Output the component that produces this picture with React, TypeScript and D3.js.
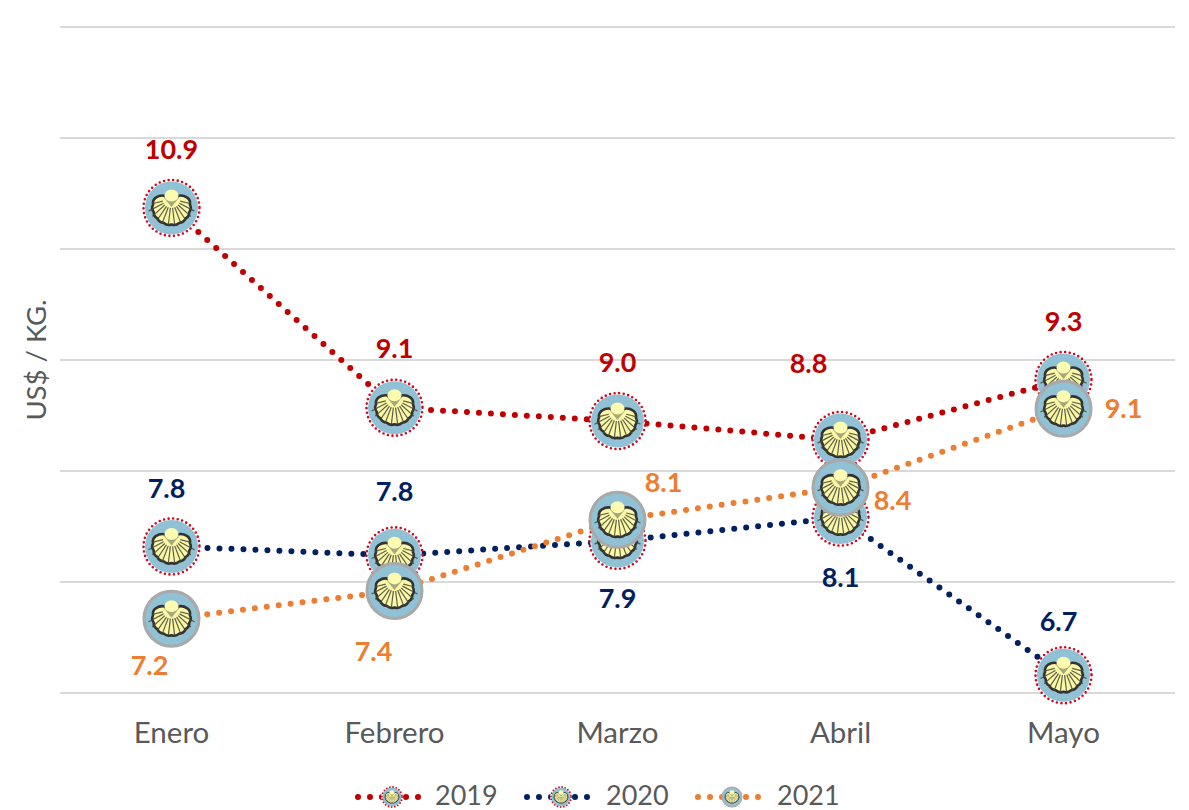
import React from "react";
import * as d3 from "d3";

const months = ["Enero", "Febrero", "Marzo", "Abril", "Mayo"];
const values2019 = [10.87, 9.07, 8.95, 8.78, 9.32];
const values2020 = [7.82, 7.74, 7.87, 8.08, 6.66];
const values2021 = [7.17, 7.42, 8.06, 8.35, 9.06];
const labels2019 = ["10.9", "9.1", "9.0", "8.8", "9.3"];
const labels2020 = ["7.8", "7.8", "7.9", "8.1", "6.7"];
const labels2021 = ["7.2", "7.4", "8.1", "8.4", "9.1"];
const years = ["2019", "2020", "2021"];
const gridTicks = [6.5, 7.5, 8.5, 9.5, 10.5, 11.5, 12.5];

const W = 1189, H = 810;
const x = d3.scaleBand<string>().domain(months).range([60, 1175]);
const y = d3.scaleLinear().domain([6.5, 12.5]).range([693, 27]);
const cx = (m: string) => (x(m) as number) + x.bandwidth() / 2;

const offsets2019 = [[0, -58], [0, -59], [0, -59], [-32, -76], [0, -58]];
const offsets2020 = [[-5, -58], [0, -64], [0, 58], [0, 60], [-5, -54]];
const offsets2021 = [[-22, 47], [-21, 61], [46, -37], [52, 13], [60, 0]];

const RED = "#c00000", NAVY = "#002060", ORANGE = "#ed7d31";
const series = [
  { year: years[0], values: values2019, labels: labels2019, offsets: offsets2019, color: RED, ring: "dots" },
  { year: years[1], values: values2020, labels: labels2020, offsets: offsets2020, color: NAVY, ring: "dots" },
  { year: years[2], values: values2021, labels: labels2021, offsets: offsets2021, color: ORANGE, ring: "grey" },
];

const FONT = "Lato, Carlito, sans-serif";

function buildShell() {
  const n = 10;
  const pts: [number, number][] = [];
  for (let i = 0; i <= n; i++) {
    const a = (-122 + (244 * i) / n) * (Math.PI / 180);
    pts.push([Math.sin(a) * 18.6, -1 + Math.cos(a) * 17.6]);
  }
  let d = `M-6,-12 Q-11,-13.5 ${pts[0][0]},${pts[0][1]}`;
  for (let i = 1; i <= n; i++) {
    const [x0, y0] = pts[i - 1], [x1, y1] = pts[i];
    const mx = (x0 + x1) / 2, my = (y0 + y1) / 2 + 1;
    const r = Math.hypot(mx, my);
    d += ` Q${(mx / r) * (r + 2.4)},${(my / r) * (r + 2.4) - 1} ${x1},${y1}`;
  }
  d += ` Q11,-13.5 6,-12 Z`;
  return d;
}

const RIB_ANGLES = [-76, -62, -48, -34, -21, -7, 7, 21, 34, 48, 62, 76];

function Shell({ scale = 1 }: { scale?: number }) {
  return (
    <g transform={`scale(${scale})`}>
      <path d={buildShell()} fill="#fbf8a6" stroke="#333333" strokeWidth={2.6} strokeLinejoin="round" />
      {RIB_ANGLES.map((a) => {
        const t = (a * Math.PI) / 180;
        const len = Math.abs(a) > 70 ? 20 : 26;
        return (
          <line
            key={a}
            x1={Math.sin(t) * 9}
            y1={-9 + Math.cos(t) * 9}
            x2={Math.sin(t) * len}
            y2={-9 + Math.cos(t) * len}
            stroke="#45453a"
            strokeWidth={1.2}
            opacity={0.85}
          />
        );
      })}
      <path d="M-8,-11 L0,-1 L8,-11 Z" fill="#85856a" opacity={0.7} />
      <ellipse cx={0} cy={-12.5} rx={7} ry={6} fill="#fdfbb0" />
    </g>
  );
}

function Marker({ px, py, ring, scale = 1 }: { px: number; py: number; ring: string; scale?: number }) {
  const r = 26 * scale;
  return (
    <g transform={`translate(${px},${py})`}>
      {ring === "grey" ? (
        <circle r={r + 1.5 * scale} fill="#90c1d5" stroke="#a9a9a9" strokeWidth={3 * scale} />
      ) : (
        <>
          <circle r={r + 1.5} fill="#ffffff" />
          <circle r={r + 0.5 * scale} fill="#90c1d5" />
          <circle r={r + 2 * scale} fill="none" stroke="#d00a1e" strokeWidth={2.6 * Math.max(scale, 0.7)} strokeLinecap="round" strokeDasharray={`0 ${4.6 * Math.max(scale, 0.7)}`} />
        </>
      )}
      <Shell scale={scale} />
    </g>
  );
}

const lineGen = d3
  .line<number>()
  .x((_, i) => cx(months[i]))
  .y((d) => y(d));

const legendX = [358, 527, 698];
const legendTextX = [435, 606, 777];

export default function App() {
  return (
    <svg
      width={W}
      height={H}
      viewBox={`0 0 ${W} ${H}`}
      style={{ position: "absolute", left: 0, top: 0, background: "#fff", fontFamily: FONT }}
    >
      {gridTicks.map((t) => (
        <line key={t} x1={60} x2={1175} y1={y(t)} y2={y(t)} stroke="#d9d9d9" strokeWidth={2} />
      ))}
      {months.map((m) => (
        <text key={m} x={cx(m)} y={743} textAnchor="middle" fontSize={29.5} fill="#595959">
          {m}
        </text>
      ))}
      <text transform="translate(46,360) rotate(-90)" textAnchor="middle" fontSize={27.5} fill="#595959">
        US$ / KG.
      </text>

      {series.map((s) => (
        <g key={s.year}>
          <path
            d={lineGen(s.values) as string}
            fill="none"
            stroke={s.color}
            strokeWidth={6}
            strokeLinecap="round"
            strokeDasharray="0 12"
          />
          {s.values.map((v, i) => (
            <Marker key={i} px={cx(months[i])} py={y(v)} ring={s.ring} />
          ))}
        </g>
      ))}
      {series.map((s) =>
        s.values.map((v, i) => (
          <text
            key={s.year + i}
            x={cx(months[i]) + s.offsets[i][0]}
            y={y(v) + s.offsets[i][1] + 9.5}
            textAnchor="middle"
            fontSize={27}
            fontWeight={700}
            fill={s.color}
          >
            {s.labels[i]}
          </text>
        ))
      )}

      {series.map((s, k) => (
        <g key={s.year}>
          <line
            x1={legendX[k]}
            x2={legendX[k] + 66}
            y1={797}
            y2={797}
            stroke={s.color}
            strokeWidth={6}
            strokeLinecap="round"
            strokeDasharray="0 12"
          />
          <Marker px={legendX[k] + 34} py={797} ring={s.ring} scale={0.36} />
          <text x={legendTextX[k]} y={805} fontSize={27} fill="#595959">
            {s.year}
          </text>
        </g>
      ))}
    </svg>
  );
}
